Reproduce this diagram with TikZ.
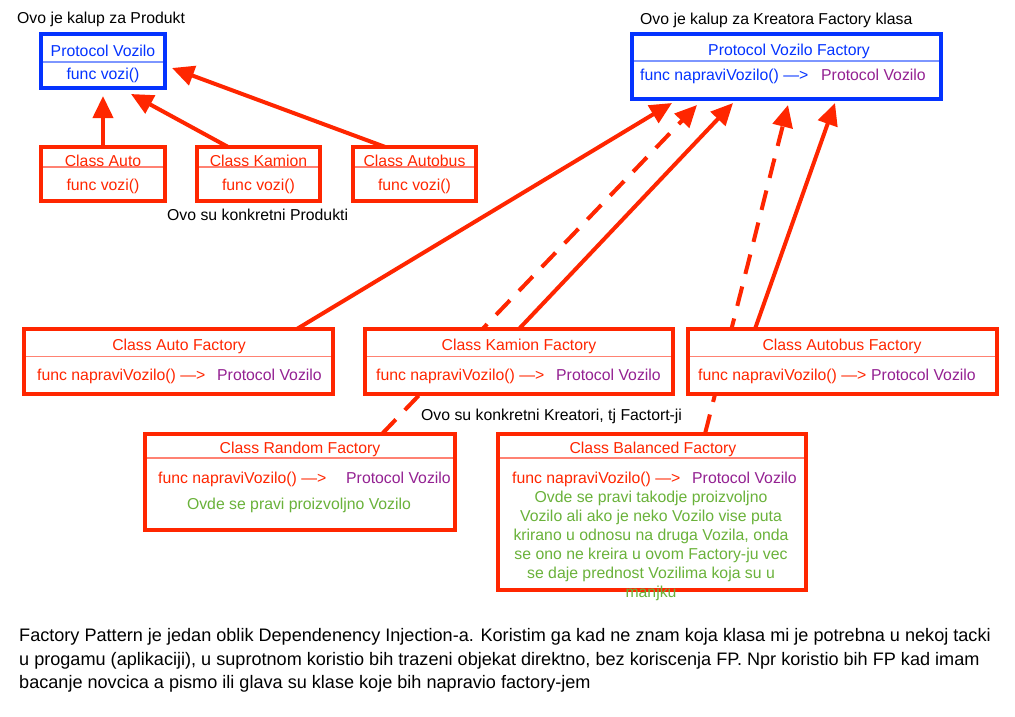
\documentclass[tikz,border=0pt]{standalone}
\usepackage{fontspec}
\setmainfont{Liberation Sans}
\usetikzlibrary{arrows.meta}
\pgfdeclarelayer{bg}
\pgfsetlayers{bg,main}
\definecolor{cred}{RGB}{255,38,0}
\definecolor{cblue}{RGB}{4,51,255}
\definecolor{cpurple}{RGB}{148,33,146}
\definecolor{cgreen}{RGB}{106,178,58}
\definecolor{lred}{RGB}{255,130,115}
\definecolor{lblue}{RGB}{125,150,255}
\begin{document}
\begin{tikzpicture}[x=1pt,y=-1pt,
  font=\fontsize{15.8}{19}\selectfont,
  redbox/.style={draw=cred,line width=3.8pt,fill=white,inner sep=0pt,outer sep=0pt},
  bluebox/.style={draw=cblue,line width=3.8pt,fill=white,inner sep=0pt,outer sep=0pt},
  rdiv/.style={draw=lred,line width=1.8pt},
  bdiv/.style={draw=lblue,line width=1.8pt},
  txt/.style={inner sep=0pt,anchor=base},
  ltxt/.style={inner sep=0pt,anchor=base west},
  arr/.style={draw=cred,line width=4pt,-{Triangle[length=22pt,width=20pt]}},
  darr/.style={arr,dash pattern=on 20pt off 13pt},
]
\useasboundingbox (0,0) rectangle (1015,717);

% ---------- boxes ----------
\node[bluebox,minimum width=124.2pt,minimum height=54.2pt] (vozilo) at (103,61) {};
\node[redbox,minimum width=124.2pt,minimum height=54.2pt] (auto) at (103,174) {};
\node[redbox,minimum width=123.2pt,minimum height=54.2pt] (kamion) at (258.5,174) {};
\node[redbox,minimum width=123.2pt,minimum height=54.2pt] (autobus) at (414.5,174) {};
\node[bluebox,minimum width=309.2pt,minimum height=65.2pt] (vf) at (786.5,66.5) {};
\node[redbox,minimum width=309.2pt,minimum height=65.2pt] (autoF) at (178.5,361.5) {};
\node[redbox,minimum width=308.2pt,minimum height=65.2pt] (kamionF) at (519,361.5) {};
\node[redbox,minimum width=309.2pt,minimum height=65.2pt] (autobusF) at (842.5,361.5) {};
\node[redbox,minimum width=310.2pt,minimum height=96.2pt] (randomF) at (300,482) {};
\node[redbox,minimum width=308.2pt,minimum height=156.2pt] (balancedF) at (652,512) {};

% ---------- dividers ----------
\draw[bdiv] ([xshift=1.9pt]vozilo.west |- 0,62) -- ([xshift=-1.9pt]vozilo.east |- 0,62);
\draw[rdiv] ([xshift=1.9pt]auto.west |- 0,167) -- ([xshift=-1.9pt]auto.east |- 0,167);
\draw[rdiv] ([xshift=1.9pt]kamion.west |- 0,167) -- ([xshift=-1.9pt]kamion.east |- 0,167);
\draw[rdiv] ([xshift=1.9pt]autobus.west |- 0,167) -- ([xshift=-1.9pt]autobus.east |- 0,167);
\draw[bdiv] ([xshift=1.9pt]vf.west |- 0,61) -- ([xshift=-1.9pt]vf.east |- 0,61);
\draw[rdiv] ([xshift=1.9pt]autoF.west |- 0,356.5) -- ([xshift=-1.9pt]autoF.east |- 0,356.5);
\draw[rdiv] ([xshift=1.9pt]kamionF.west |- 0,356.5) -- ([xshift=-1.9pt]kamionF.east |- 0,356.5);
\draw[rdiv] ([xshift=1.9pt]autobusF.west |- 0,356.5) -- ([xshift=-1.9pt]autobusF.east |- 0,356.5);
\draw[rdiv] ([xshift=1.9pt]randomF.west |- 0,458) -- ([xshift=-1.9pt]randomF.east |- 0,458);
\draw[rdiv] ([xshift=1.9pt]balancedF.west |- 0,458) -- ([xshift=-1.9pt]balancedF.east |- 0,458);

% ---------- arrows (behind boxes) ----------
\coordinate (t0) at (103,96);
\coordinate (t1) at (131,94);
\coordinate (t2) at (172,68);
\coordinate (f1) at (672,103);
\coordinate (f2) at (697,105);
\coordinate (f3) at (733,103);
\coordinate (f4) at (788,105);
\coordinate (f5) at (835,103);
\begin{pgfonlayer}{bg}
\draw[arr] (auto.north) -- (t0);
\draw[arr] ([xshift=-30.5pt]kamion.north) -- (t1);
\draw[arr] ([xshift=-29.5pt]autobus.north) -- (t2);
\draw[arr] ([xshift=118.5pt]autoF.north) -- (f1);
\draw[darr] ([xshift=82pt]randomF.north) -- (f2);
\draw[arr] (kamionF.north) -- (f3);
\draw[darr] ([xshift=53pt]balancedF.north) -- (f4);
\draw[arr] ([xshift=-87.5pt]autobusF.north) -- (f5);
\end{pgfonlayer}

% ---------- texts ----------
\node[ltxt] (lab1) at (17,24) {Ovo je kalup za Produkt};
\node[ltxt] (lab2) at (640,25) {Ovo je kalup za Kreatora Factory klasa};
\node[ltxt] (lab3) at (167,220) {Ovo su konkretni Produkti};
\node[ltxt] (lab4) at (421,420) {Ovo su konkretni Kreatori, tj Factort-ji};

\node[txt,text=cblue] (v1) at (103,57) {Protocol Vozilo};
\node[txt,text=cblue] (v2) at (103,80) {func vozi()};
\node[txt,text=cred] (a1) at (103,166) {Class Auto};
\node[txt,text=cred] (a2) at (103,190) {func vozi()};
\node[txt,text=cred] (k1) at (258.5,166) {Class Kamion};
\node[txt,text=cred] (k2) at (258.5,190) {func vozi()};
\node[txt,text=cred] (b1) at (414.5,166) {Class Autobus};
\node[txt,text=cred] (b2) at (414.5,190) {func vozi()};

\node[txt,text=cblue] (vf1) at (789,56) {Protocol Vozilo Factory};
\node[ltxt,text=cblue] (vf2) at (640,81) {func napraviVozilo() —>};
\node[ltxt,text=cpurple] (vf3) at (821,81) {Protocol Vozilo};

\node[txt,text=cred] (af1) at (179,350) {Class Auto Factory};
\node[ltxt,text=cred] (af2) at (37,380) {func napraviVozilo() —>};
\node[ltxt,text=cpurple] (af3) at (217,380) {Protocol Vozilo};

\node[txt,text=cred] (kf1) at (519,350) {Class Kamion Factory};
\node[ltxt,text=cred] (kf2) at (376,380) {func napraviVozilo() —>};
\node[ltxt,text=cpurple] (kf3) at (556,380) {Protocol Vozilo};

\node[txt,text=cred] (bf1) at (842,350) {Class Autobus Factory};
\node[ltxt,text=cred] (bf2) at (698,380) {func napraviVozilo() —>};
\node[ltxt,text=cpurple] (bf3) at (871,380) {Protocol Vozilo};

\node[txt,text=cred] (rf1) at (300,453) {Class Random Factory};
\node[ltxt,text=cred] (rf2) at (158,483) {func napraviVozilo() —>};
\node[ltxt,text=cpurple] (rf3) at (346,483) {Protocol Vozilo};
\node[txt,text=cgreen] (rf4) at (299,509) {Ovde se pravi proizvoljno Vozilo};

\node[txt,text=cred] (bl1) at (653,453) {Class Balanced Factory};
\node[ltxt,text=cred] (bl2) at (512,483) {func napraviVozilo() —>};
\node[ltxt,text=cpurple] (bl3) at (692,483) {Protocol Vozilo};
\node[txt,text=cgreen] (g1) at (651,502) {Ovde se pravi takodje proizvoljno};
\node[txt,text=cgreen] (g2) at (651,521) {Vozilo ali ako je neko Vozilo vise puta};
\node[txt,text=cgreen] (g3) at (651,540) {krirano u odnosu na druga Vozila, onda};
\node[txt,text=cgreen] (g4) at (651,559) {se ono ne kreira u ovom Factory-ju vec};
\node[txt,text=cgreen] (g5) at (651,578) {se daje prednost Vozilima koja su u};
\node[txt,text=cgreen] (g6) at (651,597) {manjku};

\begin{scope}[font=\fontsize{18.1}{23}\selectfont]
\node[ltxt] (p1) at (19,641) {Factory Pattern je jedan oblik Dependenency Injection-a. Koristim ga kad ne znam koja klasa mi je potrebna u nekoj tacki};
\node[ltxt] (p2) at (19,665) {u progamu (aplikaciji), u suprotnom koristio bih trazeni objekat direktno, bez koriscenja FP. Npr koristio bih FP kad imam};
\node[ltxt] (p3) at (19,688) {bacanje novcica a pismo ili glava su klase koje bih napravio factory-jem};
\end{scope}
\end{tikzpicture}
\end{document}
